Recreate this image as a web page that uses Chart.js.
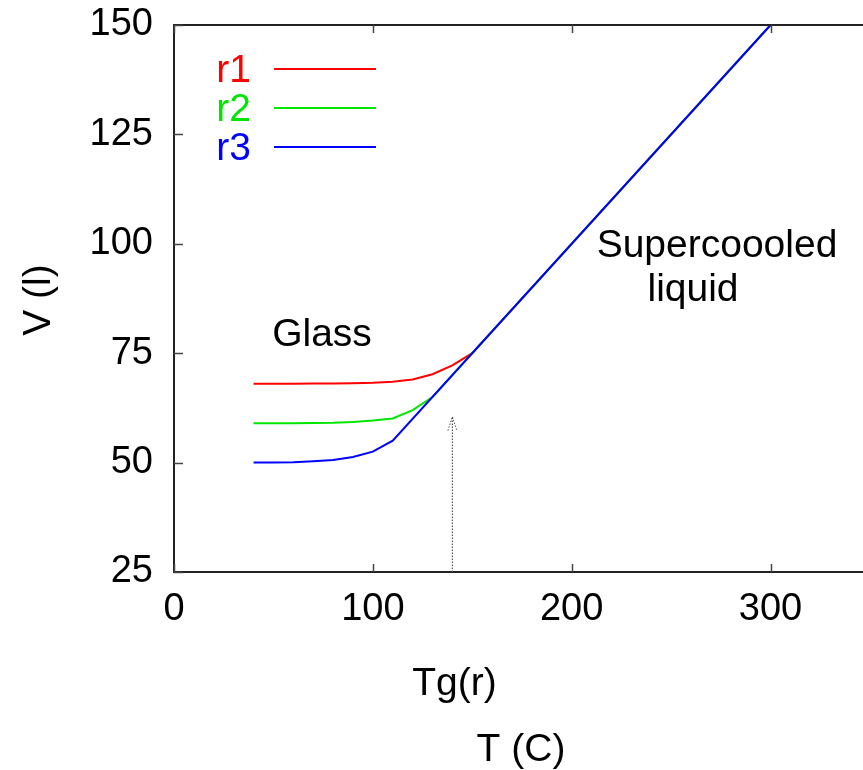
<!DOCTYPE html>
<html>
<head>
<meta charset="utf-8">
<script src="https://cdn.jsdelivr.net/npm/chart.js@4.4.0/dist/chart.umd.min.js"></script>
<style>
  html, body { margin: 0; padding: 0; background: #fff; overflow: hidden; }
  #wrap { width: 863px; height: 770px; }
</style>
</head>
<body>
<div id="wrap"><canvas id="chart" width="863" height="770"></canvas></div>
<script>
/*****************************************
 * 1. DATA
 *****************************************/
const tempR1 = [40, 50, 60, 70, 80, 90, 100, 110, 120, 130, 140, 150, 300];
const volR1  = [68.0, 68.0, 68.0, 68.05, 68.1, 68.15, 68.25, 68.5, 69.0, 70.2, 72.2, 75.0, 150];

const tempR2 = [40, 50, 60, 70, 80, 90, 100, 110, 120, 130, 300];
const volR2  = [59.0, 59.0, 59.0, 59.05, 59.1, 59.3, 59.6, 60.1, 62.0, 65.0, 150];

const tempR3 = [40, 50, 60, 70, 80, 90, 100, 110, 300];
const volR3  = [50.0, 50.05, 50.1, 50.3, 50.6, 51.3, 52.5, 55.0, 150];

// dotted Tg arrow
const tgTemp = [140, 140];
const tgVol  = [25, 60.5];

const xTicks = [0, 100, 200, 300];
const yTicks = [25, 50, 75, 100, 125, 150];

const FONT = '"Liberation Sans", Arial, Helvetica, sans-serif';

function pairs(xs, ys) {
    return xs.map((x, i) => ({ x: x, y: ys[i] }));
}

/*****************************************
 * 2. GNUPLOT-STYLE DECORATIONS
 *****************************************/
const gnuplotLook = {
    id: 'gnuplotLook',
    afterDraw(chart) {
        const ctx = chart.ctx;
        const a = chart.chartArea;
        const xs = chart.scales.x;
        const ys = chart.scales.y;
        ctx.save();

        // top border
        ctx.strokeStyle = '#222';
        ctx.lineWidth = 2;
        ctx.beginPath();
        ctx.moveTo(a.left - 1, a.top);
        ctx.lineTo(a.right, a.top);
        ctx.stroke();

        // inward ticks
        ctx.strokeStyle = '#444';
        ctx.lineWidth = 1.5;
        xTicks.forEach(v => {
            const px = Math.round(xs.getPixelForValue(v)) + 0.5;
            ctx.beginPath();
            ctx.moveTo(px, a.bottom);
            ctx.lineTo(px, a.bottom - 8);
            ctx.moveTo(px, a.top);
            ctx.lineTo(px, a.top + 8);
            ctx.stroke();
        });
        yTicks.forEach(v => {
            const py = Math.round(ys.getPixelForValue(v)) + 0.5;
            ctx.beginPath();
            ctx.moveTo(a.left, py);
            ctx.lineTo(a.left + 9, py);
            ctx.stroke();
        });

        // arrow head on the Tg line
        const ax = xs.getPixelForValue(tgTemp[1]);
        const ay = ys.getPixelForValue(tgVol[1]);
        ctx.strokeStyle = '#555';
        ctx.lineWidth = 1;
        ctx.setLineDash([1.5, 1.5]);
        ctx.beginPath();
        ctx.moveTo(ax - 4.5, ay + 14);
        ctx.lineTo(ax, ay);
        ctx.lineTo(ax + 4.5, ay + 14);
        ctx.stroke();
        ctx.setLineDash([]);

        // legend: coloured label on the left, sample line on the right
        const legendRows = [chart.data.datasets[0], chart.data.datasets[1], chart.data.datasets[2]];
        ctx.font = '39px ' + FONT;
        ctx.textAlign = 'right';
        ctx.textBaseline = 'alphabetic';
        legendRows.forEach((ds, i) => {
            const y = 69 + i * 39;
            ctx.fillStyle = ds.borderColor;
            ctx.fillText(ds.label, 251, y + 13);
            ctx.strokeStyle = ds.borderColor;
            ctx.lineWidth = 2;
            ctx.beginPath();
            ctx.moveTo(274, y);
            ctx.lineTo(376, y);
            ctx.stroke();
        });

        // text labels
        ctx.fillStyle = '#000';
        ctx.textAlign = 'center';
        ctx.fillText('Glass', 322, 346);
        ctx.fillText('Supercoooled', 717, 257);
        ctx.fillText('liquid', 693, 301);
        ctx.fillText('Tg(r)', xs.getPixelForValue(140) + 2, 695);
        ctx.fillText('T (C)', 521, 761);

        ctx.translate(50, 300);
        ctx.rotate(-Math.PI / 2);
        ctx.fillText('V (l)', 0, 0);
        ctx.restore();
    }
};

function noPad(s) {
    s.paddingTop = 0;
    s.paddingBottom = 0;
    s.paddingLeft = 0;
    s.paddingRight = 0;
}

/*****************************************
 * 3. CHART
 *****************************************/
const ctx = document.getElementById('chart').getContext('2d');
const chart = new Chart(ctx, {
    type: 'line',
    data: {
        datasets: [
            { label: 'r1', data: pairs(tempR1, volR1), borderColor: '#ff0000', order: 2 },
            { label: 'r2', data: pairs(tempR2, volR2), borderColor: '#00e600', order: 1 },
            { label: 'r3', data: pairs(tempR3, volR3), borderColor: '#0000ff', order: 0 },
            {
                label: 'Tg',
                data: pairs(tgTemp, tgVol),
                borderColor: '#555',
                borderWidth: 1.2,
                borderDash: [1.5, 1.5],
                order: 3
            }
        ]
    },
    options: {
        responsive: false,
        animation: false,
        devicePixelRatio: 1,
        layout: { padding: { top: 25, right: 0, left: 0, bottom: 0 } },
        elements: {
            line: { borderWidth: 2, tension: 0, fill: false },
            point: { radius: 0, hoverRadius: 0 }
        },
        plugins: {
            legend: { display: false },
            tooltip: { enabled: false }
        },
        scales: {
            x: {
                type: 'linear',
                min: 0,
                max: 346.5,
                afterBuildTicks: s => { s.ticks = xTicks.map(v => ({ value: v })); },
                afterFit: s => { noPad(s); s.height = 198; },
                grid: { display: false, drawTicks: false },
                border: { display: true, color: '#222', width: 2 },
                ticks: {
                    color: '#000',
                    padding: 15,
                    maxRotation: 0,
                    font: { family: FONT, size: 38 }
                }
            },
            y: {
                type: 'linear',
                min: 25,
                max: 150,
                afterBuildTicks: s => { s.ticks = yTicks.map(v => ({ value: v })); },
                afterFit: s => { noPad(s); s.width = 174; },
                grid: { display: false, drawTicks: false },
                border: { display: true, color: '#222', width: 2 },
                ticks: {
                    color: '#000',
                    padding: 21,
                    font: { family: FONT, size: 38 }
                }
            }
        }
    },
    plugins: [gnuplotLook]
});
</script>
</body>
</html>
